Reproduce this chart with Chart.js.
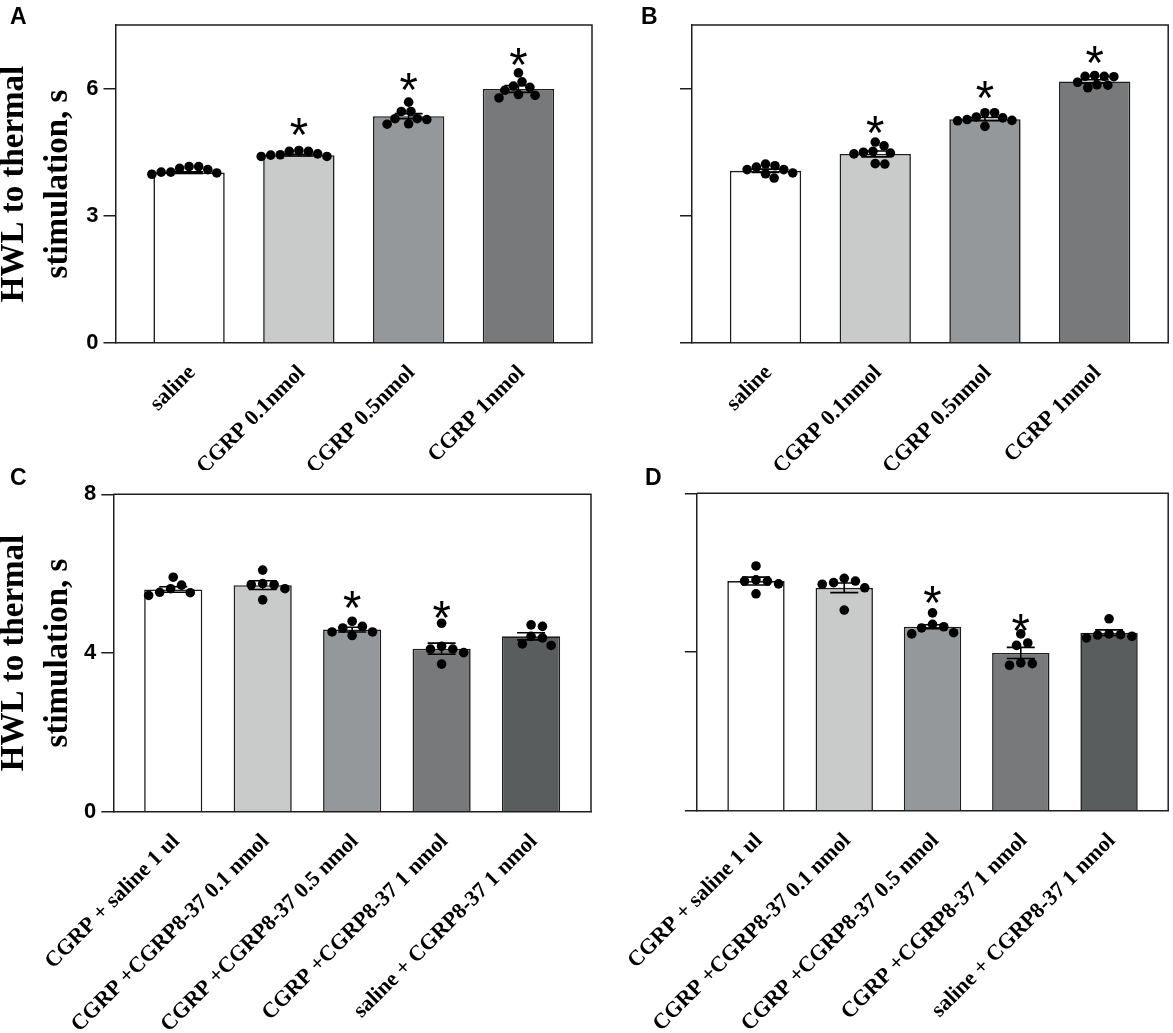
<!DOCTYPE html>
<html lang="en">
<head>
  <meta charset="UTF-8" />
  <title>HWL to thermal stimulation</title>
  <script src="https://cdn.jsdelivr.net/npm/chart.js@4.4.1/dist/chart.umd.min.js"></script>
  <style>
    html, body { margin: 0; padding: 0; background: #fff; }
    #page { position: relative; width: 1173px; height: 1033px; overflow: hidden; background: #fff; }
    .panel { position: absolute; }
    .tag { position: absolute; font: bold 23px 'Liberation Sans', Arial, sans-serif; line-height: 23px; color: #000; }
  </style>
</head>
<body>
  <div id="page">
    <div class="panel" style="left:0;top:0;width:600px;height:470px"><canvas id="chartA"></canvas></div>
    <div class="panel" style="left:600px;top:0;width:573px;height:470px"><canvas id="chartB"></canvas></div>
    <div class="panel" style="left:0;top:468px;width:600px;height:565px"><canvas id="chartC"></canvas></div>
    <div class="panel" style="left:600px;top:468px;width:573px;height:565px"><canvas id="chartD"></canvas></div>
    <div class="tag" style="left:10px;top:5px">A</div>
    <div class="tag" style="left:641px;top:5px">B</div>
    <div class="tag" style="left:10px;top:466px">C</div>
    <div class="tag" style="left:645px;top:466px">D</div>
  </div>

  <script>
    // categories
    const topCats = ['saline', 'CGRP 0.1nmol', 'CGRP 0.5nmol', 'CGRP 1nmol'];
    const bottomCats = ['CGRP + saline 1 ul', 'CGRP +CGRP8-37 0.1 nmol', 'CGRP +CGRP8-37 0.5 nmol',
                        'CGRP +CGRP8-37 1 nmol', 'saline + CGRP8-37 1 nmol'];

    // y tick labels
    const topTicks = [0, 3, 6];
    const bottomTicks = [0, 4, 8];

    // panel A
    const meanA = [4.02, 4.43, 5.35, 5.99];
    const semA = [0.02, 0.02, 0.06, 0.08];
    const dotsA = [
      [4.03, 4.16, 4.09, 4.16, 3.98, 4.12, 4.01, 4.03],
      [4.43, 4.54, 4.46, 4.52, 4.40, 4.52, 4.40, 4.44],
      [5.46, 5.17, 5.29, 5.68, 5.27, 5.29, 5.46, 5.16],
      [5.84, 6.03, 6.16, 5.86, 6.37, 5.96, 6.06, 5.78]
    ];
    const starA = [null, 5.11, 6.17, 6.76];

    // panel B
    const meanB = [4.06, 4.46, 5.28, 6.17];
    const semB = [0.04, 0.07, 0.04, 0.04];
    const dotsB = [
      [4.22, 4.01, 4.09, 3.99, 4.09, 4.18, 3.89, 4.15],
      [4.65, 4.46, 4.22, 4.52, 4.74, 4.48, 4.23, 4.50],
      [5.25, 5.43, 5.27, 5.33, 5.43, 5.11, 5.31, 5.24],
      [6.31, 6.08, 6.29, 6.09, 6.15, 6.29, 6.02, 6.28]
    ];
    const starB = [null, 5.15, 5.98, 6.80];

    // panel C
    const meanC = [5.60, 5.71, 4.59, 4.11, 4.42];
    const semC = [0.07, 0.11, 0.06, 0.14, 0.09];
    const dotsC = [
      [5.53, 5.71, 5.52, 5.91, 5.62, 5.45],
      [5.72, 5.75, 5.34, 6.09, 5.62, 5.72],
      [4.53, 4.67, 4.80, 4.53, 4.63, 4.44],
      [4.10, 4.17, 3.72, 4.75, 4.01, 4.10],
      [4.67, 4.19, 4.71, 4.42, 4.23, 4.38]
    ];
    const starC = [null, null, 5.35, 5.09, null];

    // panel D
    const meanD = [5.79, 5.62, 4.64, 3.98, 4.49];
    const semD = [0.10, 0.12, 0.05, 0.14, 0.07];
    const dotsD = [
      [5.79, 5.82, 5.47, 6.17, 5.72, 5.79],
      [5.86, 5.71, 5.75, 5.06, 5.62, 5.79],
      [4.49, 4.70, 4.99, 4.61, 4.64, 4.46],
      [4.23, 3.67, 3.73, 4.46, 4.17, 3.71],
      [4.40, 4.46, 4.84, 4.43, 4.44, 4.36]
    ];
    const starD = [null, null, 5.45, 4.74, null];

    const barFills = ['#ffffff', '#c9cbcb', '#95989b', '#77797b', '#5a5d5e'];
    const ink = '#1e1e1e';
    const serif = "'Liberation Serif', 'Times New Roman', serif";
    const sans = "'Liberation Sans', Arial, sans-serif";

    // size the asterisk so its glyph is about 17px tall
    function starFontSize() {
      const c = document.createElement('canvas').getContext('2d');
      c.font = '100px ' + sans;
      const m = c.measureText('*');
      return 100 * 17 / (m.actualBoundingBoxAscent + m.actualBoundingBoxDescent);
    }
    const starSize = starFontSize();

    function overlayPlugin(means, sems, stars) {
      return {
        id: 'overlay',
        afterDatasetsDraw(chart) {
          const { ctx, chartArea: a, scales: { x, y } } = chart;
          ctx.save();
          // error bars (mean ± SEM)
          ctx.strokeStyle = '#000';
          ctx.lineWidth = 1.6;
          const cap = 14;
          means.forEach((m, i) => {
            const px = x.getPixelForValue(i);
            const lo = y.getPixelForValue(m - sems[i]);
            const hi = y.getPixelForValue(m + sems[i]);
            ctx.beginPath();
            ctx.moveTo(px, lo); ctx.lineTo(px, hi);
            ctx.moveTo(px - cap, lo); ctx.lineTo(px + cap, lo);
            ctx.moveTo(px - cap, hi); ctx.lineTo(px + cap, hi);
            ctx.stroke();
          });
          // top and right of the frame
          ctx.strokeStyle = ink;
          ctx.lineWidth = 1.5;
          ctx.beginPath();
          ctx.moveTo(a.left, a.top);
          ctx.lineTo(a.right, a.top);
          ctx.lineTo(a.right, a.bottom);
          ctx.stroke();
          // significance stars
          ctx.fillStyle = '#000';
          ctx.font = starSize.toFixed(1) + 'px ' + sans;
          ctx.textAlign = 'center';
          ctx.textBaseline = 'alphabetic';
          const m = ctx.measureText('*');
          const shift = (m.actualBoundingBoxAscent - m.actualBoundingBoxDescent) / 2;
          stars.forEach((s, i) => {
            if (s == null) return;
            ctx.fillText('*', x.getPixelForValue(i), y.getPixelForValue(s) + shift);
          });
          ctx.restore();
        }
      };
    }

    // simple beeswarm: spread dots sideways so they do not overlap
    function swarm(chart, dots, D) {
      const xs = chart.scales.x, ys = chart.scales.y;
      const out = [];
      dots.forEach((vals, g) => {
        const cx = xs.getPixelForValue(g);
        const placed = [];
        const order = vals.map((v, i) => i).sort((a, b) => vals[b] - vals[a]);
        order.forEach(i => {
          const py = ys.getPixelForValue(vals[i]);
          const cands = [0];
          placed.forEach(p => {
            const dy = Math.abs(p.y - py);
            if (dy < D) {
              const dx = Math.sqrt(D * D - dy * dy);
              cands.push(p.dx + dx, p.dx - dx);
            }
          });
          cands.sort((a, b) => Math.abs(a) - Math.abs(b));
          const dx = cands.find(c => placed.every(p => Math.hypot(p.dx - c, p.y - py) >= D - 0.01));
          placed.push({ dx, y: py });
          out.push({ x: xs.getValueForPixel(cx + dx), y: vals[i] });
        });
      });
      chart.data.datasets[1].data = out;
      chart.update('none');
    }

    function buildPanel(id, p) {
      const canvas = document.getElementById(id);
      const box = canvas.parentNode.getBoundingClientRect();
      const n = p.cats.length;

      const chart = new Chart(canvas, {
        type: 'bar',
        data: {
          datasets: [
            {
              type: 'bar',
              order: 2,
              data: p.means.map((m, i) => ({ x: i, y: m })),
              backgroundColor: barFills.slice(0, n),
              borderColor: ink,
              borderWidth: 1.6,
              categoryPercentage: 0.65,
              barPercentage: 1
            },
            {
              type: 'scatter',
              order: 1,
              data: p.dots.flatMap((vals, g) => vals.map(v => ({ x: g, y: v }))),
              backgroundColor: '#000',
              borderWidth: 0,
              pointRadius: 4.8,
              pointHoverRadius: 4.8
            }
          ]
        },
        options: {
          responsive: true,
          maintainAspectRatio: false,
          animation: false,
          events: [],
          layout: { padding: { left: 0, top: p.area.top, right: box.width - p.area.right, bottom: 0 } },
          plugins: { legend: { display: false }, tooltip: { enabled: false } },
          scales: {
            x: {
              type: 'linear',
              min: -0.67,
              max: n - 1 + 0.67,
              offset: false,
              grid: { display: false, drawTicks: false, tickLength: 0 },
              border: { display: true, color: ink, width: 1.5 },
              afterBuildTicks: s => { s.ticks = p.cats.map((c, i) => ({ value: i })); },
              afterFit: s => { s.height = box.height - p.area.bottom; },
              ticks: {
                autoSkip: false,
                minRotation: 45,
                maxRotation: 45,
                padding: 17,
                labelOffset: 3,
                color: '#000',
                font: { family: serif, weight: 'bold', size: 22 },
                callback: v => p.cats[v] ?? ''
              }
            },
            y: {
              min: 0,
              max: p.yMax,
              afterBuildTicks: s => { s.ticks = p.yTicks.map(v => ({ value: v })); },
              afterFit: s => { s.width = p.area.left; },
              grid: { drawOnChartArea: false, drawTicks: true, tickLength: 12, color: ink, lineWidth: 1.5 },
              border: { display: true, color: ink, width: 1.5 },
              ticks: {
                display: p.showY,
                padding: 5,
                color: '#000',
                font: { family: sans, weight: 'bold', size: 22 }
              },
              title: {
                display: p.showY,
                text: ['HWL to thermal', 'stimulation, s'],
                color: '#000',
                padding: { top: -7, bottom: 0 },
                font: { family: serif, weight: 'bold', size: 33, lineHeight: 1.32 }
              }
            }
          }
        },
        plugins: [overlayPlugin(p.means, p.sems, p.stars)]
      });
      swarm(chart, p.dots, p.dotGap);
      return chart;
    }

    window.addEventListener('DOMContentLoaded', () => {
      buildPanel('chartA', {
        cats: topCats, means: meanA, sems: semA, dots: dotsA, stars: starA,
        yMax: 7.5, yTicks: topTicks, showY: true, dotGap: 9.6,
        area: { left: 115.5, top: 25, right: 592, bottom: 343 }
      });
      buildPanel('chartB', {
        cats: topCats, means: meanB, sems: semB, dots: dotsB, stars: starB,
        yMax: 7.5, yTicks: topTicks, showY: false, dotGap: 9.6,
        area: { left: 92, top: 25, right: 569, bottom: 343 }
      });
      buildPanel('chartC', {
        cats: bottomCats, means: meanC, sems: semC, dots: dotsC, stars: starC,
        yMax: 8, yTicks: bottomTicks, showY: true, dotGap: 11.5,
        area: { left: 113.3, top: 26.3, right: 591, bottom: 343.7 }
      });
      buildPanel('chartD', {
        cats: bottomCats, means: meanD, sems: semD, dots: dotsD, stars: starD,
        yMax: 8, yTicks: bottomTicks, showY: false, dotGap: 11.5,
        area: { left: 93.3, top: 25.3, right: 570, bottom: 343 }
      });
    });
  </script>
</body>
</html>
